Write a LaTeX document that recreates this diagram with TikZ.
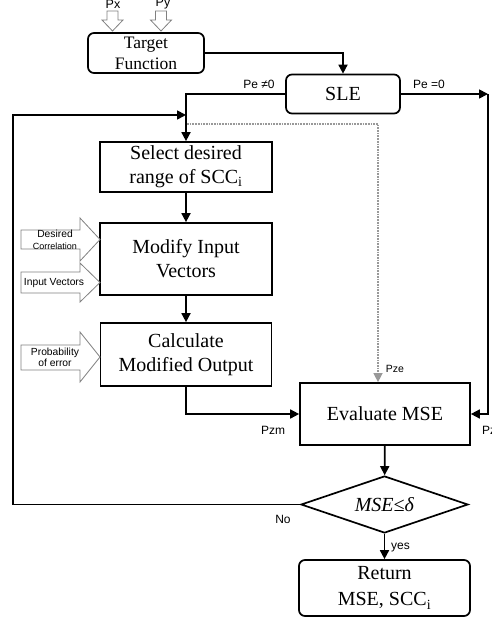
\documentclass[tikz,border=0pt]{standalone}
\usepackage{fontspec}
\setmainfont{Liberation Serif}
\setsansfont{Liberation Sans}
\usepackage{tikz}
\usetikzlibrary{arrows,arrows.meta}
\usetikzlibrary{calc,shapes.geometric}

\tikzset{
  stepbox/.style={draw, line width=1.7pt, align=center, inner sep=0pt,
    font=\fontsize{20}{24}\selectfont},
  roundbox/.style={stepbox, rounded corners=6pt},
  lbl/.style={font=\sffamily\fontsize{12}{14}\selectfont, inner sep=0pt},
  inlbl/.style={font=\sffamily\fontsize{10.3}{11.5}\selectfont, inner sep=0pt, align=center},
  flow/.style={line width=1.7pt, ->, >={Triangle[length=9pt,width=9pt]}},
  hollow/.style={draw=gray, line width=0.8pt, fill=white},
}

\begin{document}
\begin{tikzpicture}[x=1pt, y=-1pt]
        \useasboundingbox (0,0) rectangle (491,617);
        % blocks
        \node[roundbox, minimum width=116pt, minimum height=40pt,
              font=\fontsize{17.5}{21}\selectfont] (target) at (146,53) {Target\\Function};
        \node[roundbox, minimum width=114pt, minimum height=39pt] (sle) at (343,94) {SLE};
        \node[stepbox, minimum width=172pt, minimum height=50pt] (select) at (186,167)
              {Select desired\\range of SCC\textsubscript{i}};
        \node[stepbox, minimum width=172pt, minimum height=72pt] (modify) at (186,259)
              {Modify Input\\Vectors};
        \node[stepbox, minimum width=171pt, minimum height=63pt] (calc) at (186,354.5)
              {Calculate\\Modified Output};
        \node[stepbox, minimum width=170pt, minimum height=62pt] (eval) at (385,414)
              {Evaluate MSE};
        \node[stepbox, diamond, aspect=2.9, minimum width=167pt, minimum height=57pt] (dec)
              at (384.5,504.5) {\textit{MSE≤δ}};
        \node[roundbox, minimum width=171pt, minimum height=56pt,
              font=\fontsize{20}{26}\selectfont] (ret) at (384.5,588)
              {Return\\MSE, SCC\textsubscript{i}};
        % hollow inputs
        \draw[hollow] (107,11) -- (118,11) -- (118,20) -- (123,20) -- (112.5,31)
              -- (102,20) -- (107,20) -- cycle;
        \draw[hollow] (155.5,11) -- (166.5,11) -- (166.5,20) -- (171.5,20) -- (161,31)
              -- (150.5,20) -- (155.5,20) -- cycle;
        \draw[hollow] (21,230) -- (80,230) -- (80,218) -- (100,239.5) -- (80,261)
              -- (80,249) -- (21,249) -- cycle;
        \draw[hollow] (21,272) -- (80,272) -- (80,263) -- (100,282.5) -- (80,302)
              -- (80,293) -- (21,293) -- cycle;
        \draw[hollow] (21,345) -- (80,345) -- (80,332) -- (100,357) -- (80,382)
              -- (80,370) -- (21,370) -- cycle;
        \node[lbl, font=\sffamily\fontsize{12.5}{14}\selectfont] (px) at (113,4) {Px};
        \node[lbl, font=\sffamily\fontsize{12.5}{14}\selectfont] (py) at (163,4) {Py};
        \node[inlbl] (dc1) at (55,234) {Desired};
        \node[inlbl, font=\sffamily\fontsize{9}{10}\selectfont] (dc2) at (55,246) {Correlation};
        \node[inlbl] (iv) at (54,283) {Input Vectors};
        \node[inlbl] (pe) at (55,357.5) {Probability\\of error};
        % connectors
        \coordinate (fb) at (13,115);
        \coordinate (zr) at (488,94);
        \coordinate (dt) at (187,124);
        \coordinate (dt2) at (378,124);
        \draw[flow] (target.east) -| (sle.north);
        \draw[flow] (sle.west) -| (select.north);
        \draw[flow] (sle.east) -- (zr);
        \draw[flow] (zr) |- (eval.east);
        \draw[flow] (select) -- (modify);
        \draw[flow] (modify) -- (calc);
        \draw[flow] (calc.south) |- (eval.west);
        \draw[flow] (eval) -- (dec);
        \draw[flow] (dec) -- (ret);
        \draw[flow] (dec.west) -| (fb) -- (fb -| select.north);
        \draw[flow, gray!80, densely dotted, line width=1.3pt] (dt) -- (dt2) -- (dt2 |- eval.north);
        % labels
        \node[lbl] (pne) at (259,84) {Pe ≠0};
        \node[lbl] (peq) at (429,84) {Pe =0};
        \node[lbl, font=\sffamily\fontsize{10.5}{12}\selectfont] (pze) at (395,369) {Pze};
        \node[lbl] (pzm) at (273,430) {Pzm};
        \node[lbl, anchor=west] (pz) at (482,430) {Pz};
        \node[lbl] (no) at (283,519) {No};
        \node[lbl, anchor=west] (yes) at (391,548) {yes};
\end{tikzpicture}
\end{document}
